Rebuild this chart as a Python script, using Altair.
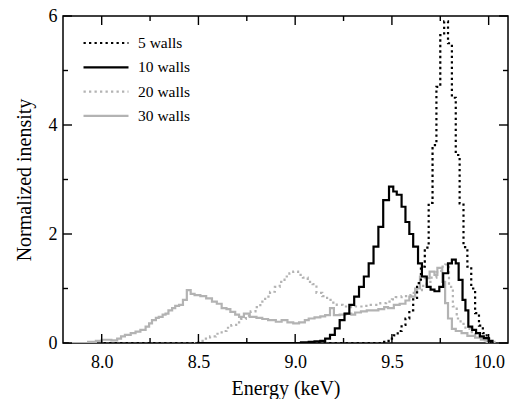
import altair as alt
import pandas as pd

# ---------------- data ----------------
series_names = ["5 walls", "10 walls", "20 walls", "30 walls"]

# step histograms: value holds from each energy to the next
e_5 = [8.01, 9.45, 9.47, 9.49, 9.51, 9.53, 9.55, 9.57, 9.59, 9.61, 9.63, 9.65, 9.67,
       9.69, 9.71, 9.73, 9.75, 9.77, 9.79, 9.81, 9.83, 9.85, 9.87, 9.89, 9.91, 9.93,
       9.95, 9.97, 9.99, 10.01]
i_5 = [0.0, 0.02, 0.04, 0.08, 0.14, 0.22, 0.33, 0.45, 0.60, 0.80, 1.10, 1.40, 1.75,
       2.57, 3.63, 4.70, 5.65, 5.90, 5.50, 4.50, 3.45, 2.56, 1.76, 1.40, 1.00, 0.55,
       0.32, 0.18, 0.08, 0.0]

e_10 = [8.49, 9.03, 9.07, 9.10, 9.13, 9.155, 9.18, 9.205, 9.23, 9.255, 9.28, 9.305,
        9.33, 9.355, 9.38, 9.405, 9.43, 9.455, 9.485, 9.507, 9.525, 9.55, 9.57, 9.59,
        9.61, 9.635, 9.655, 9.68, 9.70, 9.72, 9.745, 9.765, 9.79, 9.81, 9.83, 9.845,
        9.865, 9.88, 9.895, 9.915, 9.935, 9.955, 9.975, 10.0, 10.02]
i_10 = [0.0, 0.01, 0.02, 0.03, 0.04, 0.08, 0.15, 0.27, 0.42, 0.54, 0.70, 0.85,
        1.03, 1.22, 1.46, 1.77, 2.13, 2.62, 2.87, 2.78, 2.72, 2.50, 2.22, 2.00,
        1.77, 1.46, 1.22, 1.03, 0.98, 0.95, 1.03, 1.28, 1.46, 1.53, 1.46, 1.16,
        0.79, 0.60, 0.30, 0.24, 0.18, 0.12, 0.09, 0.04, 0.0]

e_20 = [8.47, 8.50, 8.53, 8.56, 8.59, 8.62, 8.645, 8.67, 8.695, 8.72, 8.745, 8.77,
        8.795, 8.82, 8.845, 8.87, 8.895, 8.92, 8.945, 8.97, 8.99, 9.015, 9.04, 9.065,
        9.09, 9.11, 9.14, 9.165, 9.19, 9.215, 9.245, 9.275, 9.31, 9.35, 9.38, 9.415,
        9.44, 9.47, 9.50, 9.52, 9.55, 9.58, 9.60, 9.63, 9.655, 9.68, 9.705, 9.73,
        9.755, 9.775, 9.795, 9.815, 9.835, 9.855, 9.88, 9.905, 9.93, 9.955, 9.98,
        10.005, 10.03]
i_20 = [0.0, 0.04, 0.08, 0.12, 0.17, 0.22, 0.28, 0.33, 0.38, 0.44, 0.50, 0.58,
        0.66, 0.76, 0.85, 0.94, 1.03, 1.12, 1.22, 1.28, 1.31, 1.25, 1.20, 1.12,
        1.08, 0.92, 0.86, 0.79, 0.74, 0.70, 0.67, 0.66, 0.67, 0.68, 0.70, 0.70,
        0.73, 0.76, 0.80, 0.84, 0.86, 0.88, 0.92, 0.97, 1.05, 1.12, 1.20, 1.30,
        1.40, 1.44, 1.03, 0.67, 0.45, 0.35, 0.26, 0.20, 0.14, 0.10, 0.05,
        0.02, 0.0]

e_30 = [7.83, 7.93, 7.97, 8.00, 8.05, 8.08, 8.10, 8.12, 8.15, 8.175, 8.20, 8.227,
        8.245, 8.26, 8.28, 8.295, 8.315, 8.33, 8.345, 8.364, 8.38, 8.40, 8.42, 8.44,
        8.46, 8.48, 8.51, 8.54, 8.57, 8.595, 8.62, 8.645, 8.665, 8.69, 8.71, 8.735,
        8.765, 8.80, 8.83, 8.86, 8.90, 8.93, 8.96, 8.99, 9.02, 9.05, 9.07, 9.10,
        9.13, 9.155, 9.18, 9.20, 9.23, 9.26, 9.29, 9.31, 9.34, 9.37, 9.40, 9.43,
        9.46, 9.48, 9.51, 9.54, 9.57, 9.59, 9.62, 9.645, 9.67, 9.695, 9.72, 9.735,
        9.76, 9.775, 9.79, 9.81, 9.83, 9.86, 9.89, 9.93, 9.96, 9.99, 10.01]
i_30 = [0.0, 0.02, 0.04, 0.06, 0.05, 0.08, 0.12, 0.15, 0.18, 0.21, 0.24, 0.30,
        0.36, 0.42, 0.46, 0.48, 0.52, 0.54, 0.60, 0.64, 0.68, 0.70, 0.79, 0.97,
        0.90, 0.88, 0.86, 0.82, 0.76, 0.72, 0.64, 0.62, 0.57, 0.52, 0.48, 0.54,
        0.48, 0.46, 0.44, 0.42, 0.39, 0.42, 0.38, 0.36, 0.38, 0.42, 0.45, 0.47,
        0.49, 0.51, 0.64, 0.51, 0.52, 0.54, 0.52, 0.56, 0.58, 0.60, 0.60, 0.62,
        0.66, 0.64, 0.70, 0.72, 0.78, 0.85, 1.00, 1.22, 1.19, 1.31, 1.25, 1.38,
        1.12, 0.73, 0.45, 0.26, 0.22, 0.18, 0.13, 0.10, 0.06, 0.02, 0.0]

x_major = [8.0, 8.5, 9.0, 9.5, 10.0]
x_minor = [8.25, 8.75, 9.25, 9.75]
y_major = [0, 2, 4, 6]
y_minor = [1, 3, 5]

# ---------------- build table ----------------
rows = []
for name, es, vs in [("30 walls", e_30, i_30), ("20 walls", e_20, i_20),
                     ("10 walls", e_10, i_10), ("5 walls", e_5, i_5)]:
    for e, v in zip(es, vs):
        rows.append({"energy": e, "intensity": v, "series": name})
df = pd.DataFrame(rows)

W, H = 445, 327
FONT = "Liberation Serif"
GRAY = "#b3b3b3"
DOT = [2.3, 3.2]

xscale = alt.Scale(domain=[7.8, 10.1], nice=False, zero=False)
yscale = alt.Scale(domain=[0, 6], nice=False, zero=False)

x_axis = alt.Axis(values=x_major, format=".1f", title="Energy (keV)",
                  ticks=False, tickSize=0, domain=False, grid=False,
                  labelFont=FONT, labelFontSize=18, labelColor="black",
                  labelPadding=10, labelFlush=False,
                  titleFont=FONT, titleFontSize=20, titleFontWeight="normal",
                  titleColor="black", titlePadding=7)
y_axis = alt.Axis(values=y_major, format="d", title="Normalized inensity",
                  ticks=False, tickSize=0, domain=False, grid=False,
                  labelFont=FONT, labelFontSize=18, labelColor="black",
                  labelPadding=6, labelFlush=False,
                  titleFont=FONT, titleFontSize=20, titleFontWeight="normal",
                  titleColor="black", titlePadding=14)

legend = alt.Legend(
    title=None, orient="none", legendX=19, legendY=20, padding=0,
    symbolType="stroke", symbolSize=2025, symbolStrokeWidth=2.2,
    clipHeight=14, rowPadding=8.3, labelOffset=8, symbolOffset=0,
    labelFont=FONT, labelFontSize=15.5, labelColor="black",
)

lines = alt.Chart(df).mark_line(interpolate="step-after", strokeWidth=2.2, clip=True).encode(
    x=alt.X("energy:Q", scale=xscale, axis=x_axis),
    y=alt.Y("intensity:Q", scale=yscale, axis=y_axis),
    color=alt.Color("series:N",
                    scale=alt.Scale(domain=series_names,
                                    range=["black", "black", GRAY, GRAY]),
                    legend=legend),
    strokeDash=alt.StrokeDash("series:N",
                              scale=alt.Scale(domain=series_names,
                                              range=[DOT, [1, 0], DOT, [1, 0]]),
                              legend=legend),
)


def xticks(vals, length, top):
    d = pd.DataFrame({"v": vals})
    if top:
        yv, y2v = 0, length
    else:
        yv, y2v = H, H - length
    return alt.Chart(d).mark_rule(color="black", strokeWidth=1.4).encode(
        x=alt.X("v:Q", scale=xscale, axis=x_axis),
        y=alt.value(yv), y2=alt.value(y2v))


def yticks(vals, length, right):
    d = pd.DataFrame({"v": vals})
    if right:
        xv, x2v = W, W - length
    else:
        xv, x2v = 0, length
    return alt.Chart(d).mark_rule(color="black", strokeWidth=1.4).encode(
        y=alt.Y("v:Q", scale=yscale, axis=y_axis),
        x=alt.value(xv), x2=alt.value(x2v))


MAJ, MIN = 9, 5
layers = [lines,
          xticks(x_major, MAJ, False), xticks(x_minor, MIN, False),
          xticks(x_major, MAJ, True), xticks(x_minor, MIN, True),
          yticks(y_major, MAJ, False), yticks(y_minor, MIN, False),
          yticks(y_major, MAJ, True), yticks(y_minor, MIN, True)]

chart = alt.layer(*layers).properties(
    width=W, height=H,
    padding={"left": 63, "top": 16, "right": 3, "bottom": 56},
    autosize=alt.AutoSizeParams(type="none"),
    background="white",
).configure_view(stroke="black", strokeWidth=1.5)

chart.save("out.html", embed_options={"renderer": "svg", "actions": False})
